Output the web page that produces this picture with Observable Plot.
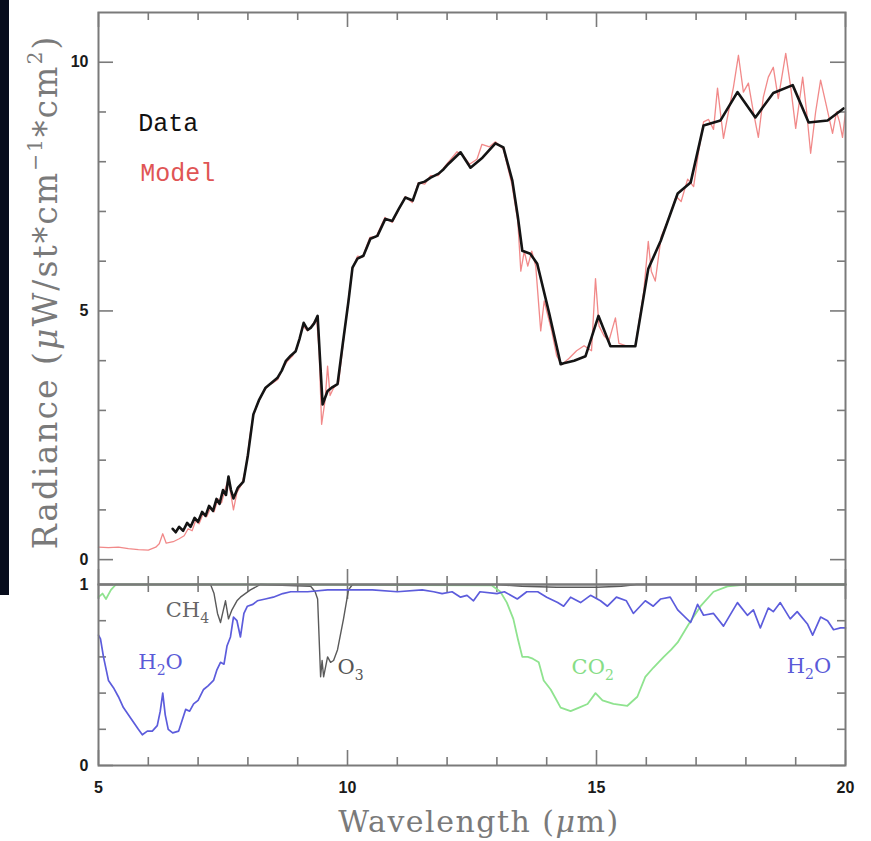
<!DOCTYPE html>
<html><head><meta charset="utf-8">
<script src="https://cdn.jsdelivr.net/npm/d3@7"></script>
<script src="https://cdn.jsdelivr.net/npm/@observablehq/plot@0.6"></script>
<style>
body{margin:0;background:#fff;}
#wrap{position:relative;width:871px;height:841px;overflow:hidden;background:#fff;}
#wrap svg{position:absolute;left:0;top:0;}
.lab{position:absolute;font-family:"DejaVu Serif",serif;color:#7a7a7a;white-space:nowrap;letter-spacing:1.5px;}
.lab sup{font-size:0.62em;vertical-align:0.7em;line-height:0;}
#strip{position:absolute;left:0;top:0;width:9px;height:595px;background:#070c1c;}
</style></head><body>
<div id="wrap"><div id="strip"></div></div>
<script>
// ---- Upper panel: radiance spectrum ----
const dataWl = [6.49,6.55,6.62,6.70,6.78,6.85,6.93,7.00,7.08,7.15,7.22,7.30,7.37,7.43,7.50,7.56,7.61,7.66,7.71,7.80,7.91,8.00,8.11,8.22,8.35,8.47,8.59,8.68,8.76,8.86,8.96,9.04,9.12,9.20,9.26,9.33,9.40,9.45,9.50,9.60,9.70,9.80,9.90,10.02,10.10,10.20,10.32,10.46,10.60,10.76,10.90,11.03,11.16,11.31,11.43,11.55,11.67,11.83,11.93,12.03,12.27,12.47,12.71,12.97,13.13,13.31,13.42,13.51,13.67,13.81,14.05,14.28,14.34,14.55,14.78,15.04,15.28,15.55,15.78,16.04,16.29,16.63,16.89,17.15,17.49,17.83,18.19,18.55,18.94,19.26,19.64,19.96];
const dataRad = [0.62,0.55,0.66,0.58,0.74,0.66,0.84,0.76,0.96,0.88,1.08,0.98,1.22,1.12,1.40,1.30,1.67,1.40,1.23,1.45,1.57,2.10,2.92,3.20,3.45,3.55,3.65,3.80,3.99,4.10,4.19,4.45,4.76,4.62,4.66,4.75,4.90,4.00,3.12,3.39,3.47,3.53,4.30,5.20,5.87,6.05,6.11,6.45,6.51,6.85,6.81,7.05,7.28,7.22,7.56,7.60,7.68,7.76,7.85,7.96,8.19,7.88,8.08,8.37,8.29,7.62,6.90,6.21,6.15,5.95,4.95,3.93,3.95,4.00,4.09,4.90,4.29,4.29,4.29,5.85,6.41,7.36,7.58,8.73,8.83,9.40,8.89,9.38,9.54,8.79,8.83,9.07];

const modelWl = [5.00,5.20,5.40,5.60,5.80,6.00,6.15,6.22,6.29,6.36,6.50,6.62,6.72,6.80,6.88,6.95,7.02,7.10,7.17,7.25,7.32,7.40,7.47,7.54,7.60,7.66,7.71,7.78,7.88,7.96,8.05,8.11,8.20,8.30,8.40,8.50,8.60,8.70,8.80,8.90,9.00,9.10,9.20,9.28,9.38,9.43,9.48,9.55,9.60,9.65,9.72,9.82,9.92,10.02,10.10,10.20,10.30,10.45,10.58,10.75,10.90,11.05,11.16,11.30,11.42,11.55,11.67,11.82,11.95,12.05,12.20,12.30,12.45,12.60,12.70,12.85,12.97,13.13,13.30,13.42,13.48,13.55,13.62,13.70,13.78,13.88,13.95,14.10,14.20,14.30,14.45,14.60,14.75,14.90,14.98,15.05,15.15,15.25,15.38,15.45,15.60,15.78,15.95,16.04,16.10,16.18,16.30,16.45,16.60,16.70,16.83,16.95,17.05,17.15,17.25,17.35,17.43,17.55,17.65,17.75,17.85,17.95,18.05,18.15,18.25,18.35,18.45,18.55,18.65,18.80,18.90,19.00,19.14,19.22,19.30,19.40,19.50,19.60,19.74,19.82,19.88,19.94,20.00];
const modelRad = [0.25,0.24,0.25,0.22,0.20,0.19,0.25,0.32,0.52,0.33,0.36,0.42,0.48,0.62,0.58,0.78,0.72,0.92,0.86,1.04,0.96,1.22,1.14,1.40,1.60,1.30,1.00,1.35,1.52,1.85,2.55,2.90,3.15,3.35,3.50,3.55,3.62,3.85,4.00,4.10,4.30,4.70,4.60,4.70,4.85,4.20,2.72,3.20,3.89,3.30,3.45,3.55,4.40,5.25,5.85,6.10,6.08,6.48,6.50,6.88,6.78,7.08,7.30,7.18,7.58,7.55,7.72,7.72,7.90,8.02,8.20,8.15,7.95,8.05,8.35,8.30,8.40,8.25,7.55,6.80,5.80,6.20,5.90,6.20,5.90,4.60,5.20,4.60,4.10,3.92,4.05,4.20,4.30,4.20,5.65,4.70,4.50,4.40,4.86,4.35,4.30,4.30,5.40,6.40,5.80,5.60,6.50,6.85,7.30,7.20,7.65,7.50,8.20,8.80,8.85,8.65,9.48,8.47,9.00,9.50,10.14,9.40,9.58,9.00,8.49,9.30,9.70,9.90,9.27,10.18,9.50,8.67,9.70,9.00,8.17,9.00,9.64,9.20,8.57,9.00,8.80,8.49,9.00];

const legendNames = ["Data","Model"];
const legendWl = [5.80,5.84];
const legendRad = [8.77,7.78];

// ---- Lower panel: transmission ----
const h2oWl = [5.00,5.04,5.10,5.20,5.30,5.40,5.50,5.60,5.70,5.80,5.88,5.98,6.08,6.18,6.24,6.29,6.34,6.40,6.49,6.61,6.68,6.75,6.83,6.91,7.00,7.11,7.20,7.31,7.38,7.45,7.52,7.58,7.65,7.71,7.78,7.85,7.92,7.99,8.10,8.19,8.35,8.51,8.70,8.86,9.20,9.60,10.00,10.50,11.00,11.50,11.73,11.90,12.10,12.27,12.40,12.53,12.66,13.00,13.15,13.41,13.60,13.82,14.00,14.22,14.34,14.48,14.68,14.88,15.08,15.22,15.40,15.60,15.74,15.98,16.14,16.29,16.48,16.63,16.89,17.03,17.15,17.35,17.55,17.83,18.03,18.15,18.29,18.45,18.55,18.69,18.89,19.03,19.24,19.34,19.50,19.64,19.76,19.90,20.00];
const h2oT = [0.72,0.70,0.60,0.47,0.43,0.38,0.32,0.28,0.24,0.20,0.17,0.19,0.19,0.22,0.30,0.40,0.28,0.20,0.18,0.19,0.25,0.31,0.30,0.34,0.36,0.42,0.44,0.47,0.53,0.57,0.56,0.66,0.71,0.82,0.80,0.71,0.84,0.88,0.89,0.91,0.92,0.93,0.95,0.96,0.96,0.97,0.97,0.97,0.96,0.97,0.96,0.95,0.96,0.93,0.94,0.91,0.96,0.95,0.96,0.92,0.96,0.96,0.93,0.90,0.88,0.93,0.90,0.94,0.91,0.88,0.93,0.91,0.84,0.91,0.88,0.92,0.93,0.86,0.79,0.89,0.83,0.84,0.77,0.90,0.83,0.86,0.76,0.87,0.85,0.90,0.81,0.85,0.78,0.72,0.82,0.80,0.75,0.76,0.76];

const co2Wl = [5.00,5.08,5.15,5.25,5.35,8.00,12.90,13.07,13.20,13.33,13.42,13.51,13.62,13.72,13.84,13.94,14.08,14.18,14.28,14.48,14.65,14.82,14.98,15.12,15.34,15.62,15.82,15.98,16.14,16.35,16.50,16.63,16.85,17.09,17.35,17.63,18.00,20.00];
const co2T = [0.93,0.95,0.92,0.97,1.00,1.00,0.995,0.96,0.90,0.81,0.70,0.60,0.60,0.59,0.57,0.47,0.42,0.37,0.32,0.30,0.32,0.34,0.40,0.36,0.34,0.33,0.38,0.49,0.54,0.60,0.64,0.68,0.78,0.88,0.96,0.99,1.00,1.00];

const gasWl = [5.00,7.25,7.32,7.39,7.45,7.50,7.55,7.61,7.68,7.78,7.85,8.05,8.25,9.26,9.35,9.40,9.46,9.49,9.52,9.60,9.66,9.72,9.80,9.92,10.02,10.10,13.00,13.50,14.20,15.00,15.50,15.80,20.00];
const gasT = [1.00,1.00,0.95,0.84,0.79,0.85,0.91,0.81,0.86,0.91,0.93,0.97,1.00,0.99,0.96,0.92,0.49,0.58,0.49,0.60,0.57,0.58,0.64,0.81,0.97,1.00,1.00,0.99,0.985,0.985,0.99,1.00,1.00];

const gasNames = ["CH₄","H₂O","O₃","CO₂","H₂O"];
const gasLabelWl = [6.35,5.80,9.80,14.50,18.82];
const gasLabelT = [0.86,0.57,0.54,0.54,0.55];
const gasColors = ["#666666","#5a5ad8","#555555","#86dd86","#5a5ad8"];

// ---- Axes ----
const xMajorTicks = [5,10,15,20];
const xMinorTicks = [6,7,8,9,11,12,13,14,16,17,18,19];
const xTickLabels = ["5","10","15","20"];
const yMajorTicks = [0,5,10];
const yMinorTicks = [1,2,3,4,6,7,8,9];
const yTickLabels = ["0","5","10"];
const tTicks = [0.2,0.4,0.6,0.8];
const tMajorTicks = [0,1];
const tTickLabels = ["0","1"];

const W = 871, ML = 98, MR = 26;
const FW = W - ML - MR;
const frameCol = "#7a7a7a";
const toRows = (xs, ys) => xs.map((x, i) => ({x, y: ys[i]}));

function tickMarks(xMaj, xMin, yMaj, yMin, FH) {
  const s = {stroke: frameCol, strokeWidth: 1.6};
  return [
    Plot.tickX(xMin, {x: d => d, ...s, insetTop: FH - 8}),
    Plot.tickX(xMin, {x: d => d, ...s, insetBottom: FH - 8}),
    Plot.tickX(xMaj, {x: d => d, ...s, insetTop: FH - 15}),
    Plot.tickX(xMaj, {x: d => d, ...s, insetBottom: FH - 15}),
    Plot.tickY(yMin, {y: d => d, ...s, insetRight: FW - 8}),
    Plot.tickY(yMin, {y: d => d, ...s, insetLeft: FW - 8}),
    Plot.tickY(yMaj, {y: d => d, ...s, insetRight: FW - 15}),
    Plot.tickY(yMaj, {y: d => d, ...s, insetLeft: FW - 15})
  ];
}

const tickFont = {fontFamily: "Liberation Sans, Arial, sans-serif", fontWeight: "bold", fontSize: 16, fill: "#1a1a1a"};

// lower panel
const lowerH = 841, lowerMT = 584, lowerMB = 76;
const lower = Plot.plot({
  width: W, height: lowerH,
  marginLeft: ML, marginRight: MR, marginTop: lowerMT, marginBottom: lowerMB,
  style: {background: "transparent", overflow: "visible"},
  x: {domain: [5, 20], axis: null},
  y: {domain: [0, 1], axis: null},
  marks: [
    ...tickMarks(xMajorTicks, xMinorTicks, tMajorTicks, tTicks, lowerH - lowerMT - lowerMB),
    Plot.line(toRows(co2Wl, co2T), {x: "x", y: "y", stroke: "#8fe38f", strokeWidth: 1.8}),
    Plot.line(toRows(gasWl, gasT), {x: "x", y: "y", stroke: "#5a5a5a", strokeWidth: 1.4}),
    Plot.line(toRows(h2oWl, h2oT), {x: "x", y: "y", stroke: "#5c5cdc", strokeWidth: 1.7}),
    Plot.frame({stroke: frameCol, strokeWidth: 2}),
    Plot.text(gasNames, {x: (d, i) => gasLabelWl[i], y: (d, i) => gasLabelT[i], text: d => d,
      fill: (d, i) => gasColors[i], textAnchor: "start", fontFamily: "DejaVu Serif, serif", fontSize: 21}),
    Plot.text(xTickLabels, {x: (d, i) => xMajorTicks[i], y: 0, dy: 22, text: d => d, ...tickFont}),
    Plot.text(tTickLabels, {x: 5, y: (d, i) => tMajorTicks[i], dx: -10, textAnchor: "end", text: d => d, ...tickFont})
  ]
});
// render chemical subscripts as real lowered tspans
const subMap = {"₂": "2", "₃": "3", "₄": "4"};
lower.querySelectorAll("text").forEach(t => {
  const s = t.textContent;
  if (!/[₂₃₄]/.test(s)) return;
  t.textContent = "";
  let shifted = false;
  for (const ch of s) {
    const ts = document.createElementNS("http://www.w3.org/2000/svg", "tspan");
    if (subMap[ch]) {
      ts.textContent = subMap[ch];
      ts.setAttribute("font-size", "14");
      ts.setAttribute("dy", "6");
      shifted = true;
    } else {
      ts.textContent = ch;
      if (shifted) { ts.setAttribute("dy", "-6"); shifted = false; }
    }
    t.appendChild(ts);
  }
});
document.getElementById("wrap").appendChild(lower);

// upper panel
const upperH = 600, upperMT = 12, upperMB = 16;
const upper = Plot.plot({
  width: W, height: upperH,
  marginLeft: ML, marginRight: MR, marginTop: upperMT, marginBottom: upperMB,
  style: {background: "transparent", overflow: "visible"},
  x: {domain: [5, 20], axis: null},
  y: {domain: [-0.5, 11], axis: null},
  marks: [
    ...tickMarks(xMajorTicks, xMinorTicks, yMajorTicks, yMinorTicks, upperH - upperMT - upperMB),
    Plot.line(toRows(modelWl, modelRad), {x: "x", y: "y", stroke: "#ef7474", strokeWidth: 1.3, strokeOpacity: 0.85}),
    Plot.line(toRows(dataWl, dataRad), {x: "x", y: "y", stroke: "#141414", strokeWidth: 2.6}),
    Plot.frame({stroke: frameCol, strokeWidth: 2}),
    Plot.text(legendNames, {x: (d, i) => legendWl[i], y: (d, i) => legendRad[i], text: d => d,
      fill: (d, i) => i === 0 ? "#111111" : "#e05555", textAnchor: "start",
      fontFamily: "Liberation Mono, DejaVu Sans Mono, monospace", fontSize: 25}),
    Plot.text(yTickLabels, {x: 5, y: (d, i) => yMajorTicks[i], dx: -10, textAnchor: "end", text: d => d, ...tickFont})
  ]
});
document.getElementById("wrap").appendChild(upper);

// axis titles
const wrap = document.getElementById("wrap");
const xl = document.createElement("div");
xl.className = "lab";
xl.style.cssText = "left:479px;top:821px;transform:translate(-50%,-50%);font-size:30px;";
xl.innerHTML = "Wavelength (<i>μ</i>m)";
wrap.appendChild(xl);
const yl = document.createElement("div");
yl.className = "lab";
yl.style.cssText = "left:45px;top:292px;transform:translate(-50%,-50%) rotate(-90deg);font-size:33px;letter-spacing:2px;";
yl.innerHTML = "Radiance (<i>μ</i>W/st*cm<sup>−1</sup>*cm<sup>2</sup>)";
wrap.appendChild(yl);
</script>
</body></html>
